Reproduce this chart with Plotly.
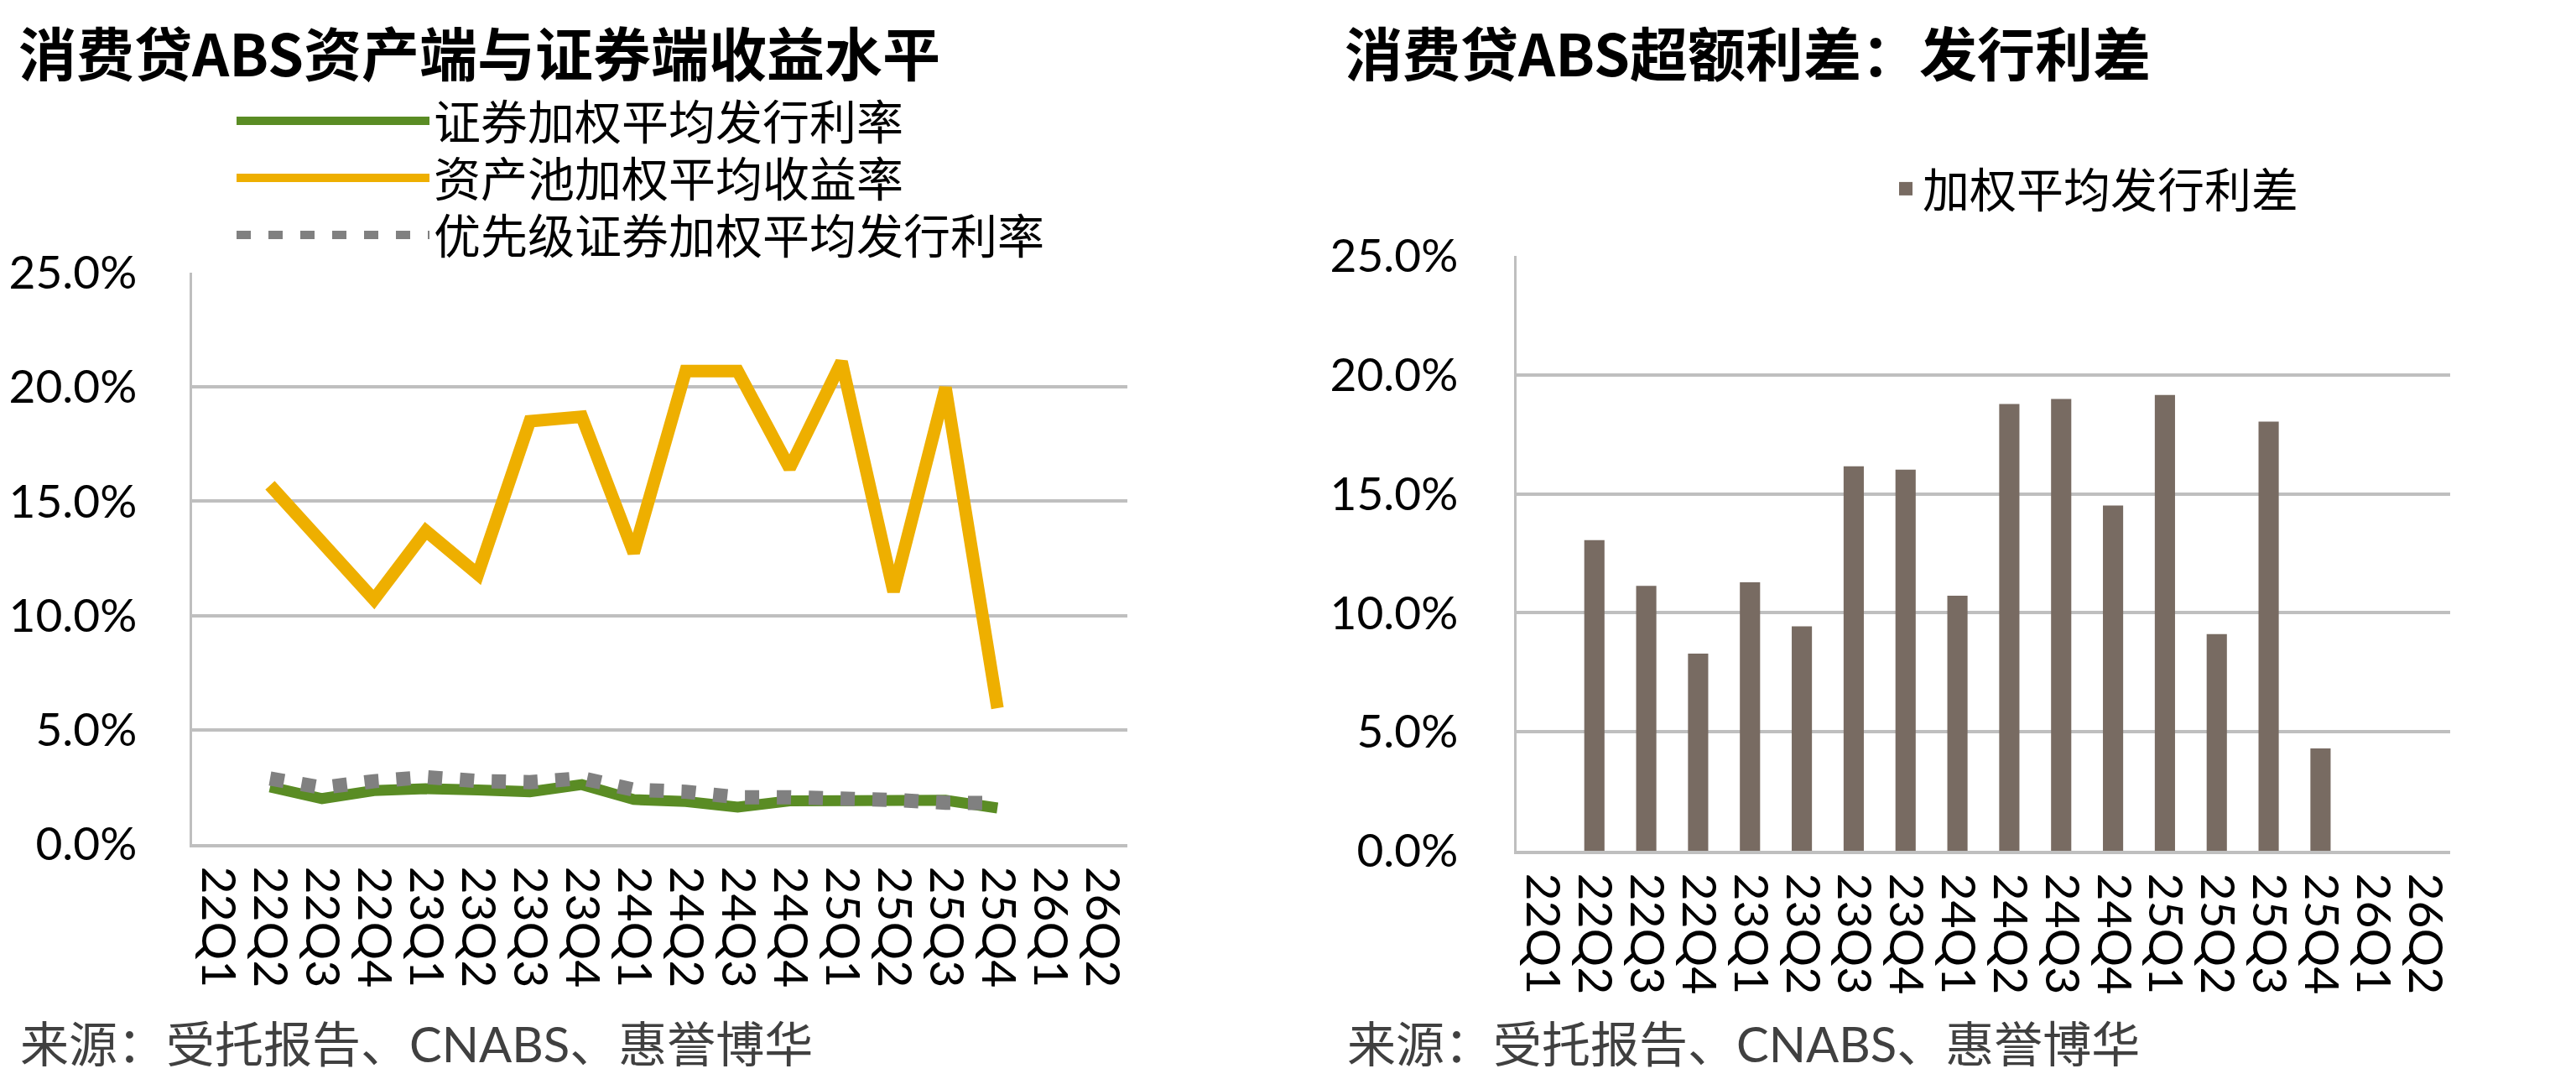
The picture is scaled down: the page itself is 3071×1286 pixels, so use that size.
import plotly.graph_objects as go

# 季度
quarters = ['22Q1', '22Q2', '22Q3', '22Q4', '23Q1', '23Q2', '23Q3', '23Q4',
            '24Q1', '24Q2', '24Q3', '24Q4', '25Q1', '25Q2', '25Q3', '25Q4',
            '26Q1', '26Q2']

# 左图：收益水平 (%)
sec_rate = [None, 2.50, 1.99, 2.34, 2.42, 2.37, 2.29, 2.60, 1.95, 1.86, 1.62,
            1.89, 1.93, 1.93, 1.92, 1.58, None, None]
pool_yield = [None, 15.7, 13.2, 10.7, 13.7, 11.8, 18.5, 18.7, 12.75, 20.7, 20.7,
              16.45, 21.1, 11.05, 19.97, 5.95, None, None]
senior_rate = [None, 2.87, 2.47, 2.75, 2.93, 2.76, 2.71, 2.88, 2.38, 2.29, 2.05,
               2.05, 2.03, 1.93, 1.81, 1.79, None, None]

# 右图：加权平均发行利差 (%)
spread = [None, 13.06, 11.13, 8.29, 11.28, 9.43, 16.16, 16.02, 10.72, 18.78,
          18.99, 14.51, 19.16, 9.11, 18.04, 4.30, None, None]

yticks = [0, 5, 10, 15, 20, 25]
ytick_labels = ['0.0%', '5.0%', '10.0%', '15.0%', '20.0%', '25.0%']

W, H = 3071, 1286
OFF = 8  # page body margin
GREEN = '#5A8C24'
YELLOW = '#EEAF00'
DOTGRAY = '#808080'
BAR = '#786B62'
GRID = '#BFBFBF'
FONT = "Lato, 'Noto Sans CJK SC', sans-serif"
CJK = "'Noto Sans CJK SC', sans-serif"


def px(x):
    return (x - OFF) / W


def py(y):
    return 1 - (y - OFF) / H


fig = go.Figure()

fig.add_trace(go.Scatter(x=quarters, y=sec_rate, name='证券加权平均发行利率',
                         mode='lines', line=dict(color=GREEN, width=13),
                         xaxis='x', yaxis='y', legend='legend'))
fig.add_trace(go.Scatter(x=quarters, y=pool_yield, name='资产池加权平均收益率',
                         mode='lines', line=dict(color=YELLOW, width=15),
                         xaxis='x', yaxis='y', legend='legend3'))
fig.add_trace(go.Scatter(x=quarters, y=senior_rate, name='优先级证券加权平均发行利率',
                         mode='lines',
                         line=dict(color=DOTGRAY, width=17, dash='17px,21px'),
                         xaxis='x', yaxis='y', legend='legend4'))

fig.add_trace(go.Bar(x=quarters, y=spread, name='加权平均发行利差',
                     marker=dict(color=BAR, line=dict(width=0)),
                     xaxis='x2', yaxis='y2', showlegend=False))
# legend entry only (bar legend swatch is too small)
fig.add_trace(go.Scatter(x=[None], y=[None], name='加权平均发行利差', mode='markers',
                         marker=dict(symbol='square', size=30, color=BAR),
                         xaxis='x2', yaxis='y2', legend='legend2'))

xcommon = dict(type='category', categoryorder='array', categoryarray=quarters,
               tickmode='array', tickvals=quarters, ticktext=quarters,
               tickangle=90, tickfont=dict(family=FONT, size=57, color='#000000'),
               showgrid=False, showline=True, linecolor=GRID, linewidth=4,
               ticks='outside', ticklen=11, tickcolor='rgba(0,0,0,0)',
               range=[-0.5, 17.5], fixedrange=True, automargin=False)
ycommon = dict(range=[0, 25.001], tickvals=yticks, ticktext=ytick_labels,
               tickfont=dict(family=FONT, size=55, color='#000000'),
               showgrid=True, gridcolor=GRID, gridwidth=4, zeroline=False,
               showline=True, linecolor=GRID, linewidth=2.5,
               ticks='outside', tickcolor='rgba(0,0,0,0)', fixedrange=True,
               automargin=False)

legcommon = dict(xanchor='left', yanchor='middle', bgcolor='rgba(0,0,0,0)',
                 borderwidth=0, font=dict(family=CJK, size=56, color='#000000'))

fig.update_layout(
    width=W, height=H,
    margin=dict(l=0, r=0, t=0, b=0, pad=0, autoexpand=False),
    paper_bgcolor='white', plot_bgcolor='white',
    font=dict(family=FONT, color='#000000'),
    xaxis=dict(xcommon, domain=[px(229), px(1344)], anchor='y'),
    yaxis=dict(ycommon, domain=[py(1006), py(325)], anchor='x', ticklen=52),
    xaxis2=dict(xcommon, domain=[px(1808), px(2921)], anchor='y2'),
    yaxis2=dict(ycommon, domain=[py(1014), py(305)], anchor='x2', ticklen=56),
    bargap=0.61,
    legend=dict(legcommon, x=px(277), y=py(144), itemwidth=230),
    legend3=dict(legcommon, x=px(277), y=py(212), itemwidth=230),
    legend4=dict(legcommon, x=px(277), y=py(280), itemwidth=230),
    legend2=dict(legcommon, x=px(2252), y=py(225), itemwidth=30),
    showlegend=True,
)

titles = [
    dict(text='<b>消费贷ABS资产端与证券端收益水平</b>', x=px(20)),
    dict(text='<b>消费贷ABS超额利差：发行利差</b>', x=px(1601)),
]
for t in titles:
    fig.add_annotation(text=t['text'], x=t['x'], y=py(61), xref='paper', yref='paper',
                       xanchor='left', yanchor='middle', showarrow=False,
                       font=dict(family=CJK, size=69, color='#000000'))

for sx in [px(22), px(1604)]:
    fig.add_annotation(text='来源：受托报告、CNABS、惠誉博华', x=sx, y=py(1243),
                       xref='paper', yref='paper', xanchor='left', yanchor='middle',
                       showarrow=False,
                       font=dict(family=FONT, size=58, color='#404040'))

fig.write_html('out.html')
